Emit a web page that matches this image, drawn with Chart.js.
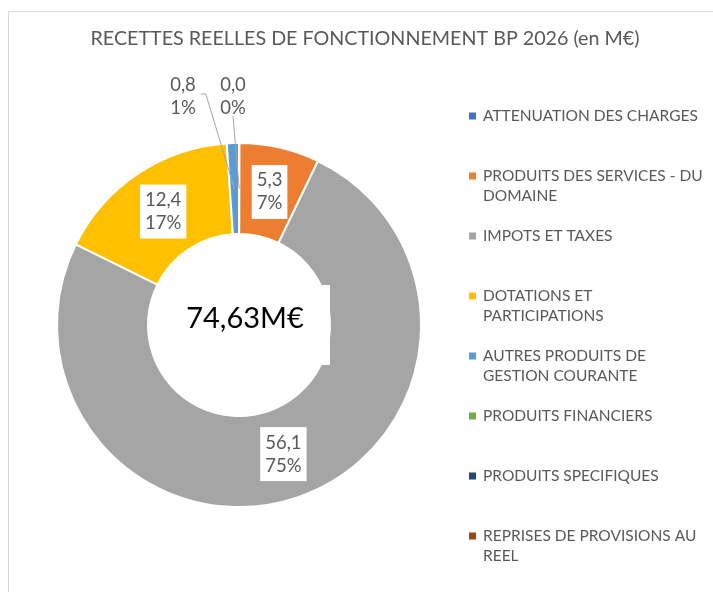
<!DOCTYPE html>
<html lang="fr">
<head>
<meta charset="utf-8">
<title>Recettes réelles de fonctionnement BP 2026</title>
<script src="https://cdn.jsdelivr.net/npm/chart.js"></script>
<style>
  html, body { margin: 0; padding: 0; background: #fff; }
  #wrap { position: relative; width: 713px; height: 592px; }
</style>
</head>
<body>
<div id="wrap"><canvas id="myChart"></canvas></div>
<script>
// data (M€)
var Title = 'RECETTES REELLES DE FONCTIONNEMENT BP 2026 (en M€)';
var Categories = [
  'ATTENUATION DES CHARGES',
  ['PRODUITS DES SERVICES - DU', 'DOMAINE'],
  'IMPOTS ET TAXES',
  ['DOTATIONS ET', 'PARTICIPATIONS'],
  ['AUTRES PRODUITS DE', 'GESTION COURANTE'],
  'PRODUITS FINANCIERS',
  'PRODUITS SPECIFIQUES',
  ['REPRISES DE PROVISIONS AU', 'REEL']
];
var Values = [0.03, 5.3, 56.1, 12.4, 0.8, 0, 0, 0];
var Colors = ['#4472C4', '#ED7D31', '#A5A5A5', '#FFC000', '#5B9BD5', '#70AD47', '#264478', '#9E480E'];

var FONT = 'Lato, "Open Sans", sans-serif';
var GRAY = '#595959';
var total = Values.reduce(function (a, b) { return a + b; }, 0);

function fmt(v, d) { return v.toFixed(d).replace('.', ','); }

var decor = {
  id: 'decor',
  beforeDraw: function (chart) {
    var ctx = chart.ctx;
    ctx.save();
    ctx.fillStyle = '#fff';
    ctx.fillRect(0, 0, chart.width, chart.height);
    ctx.strokeStyle = '#d9d9d9';
    ctx.lineWidth = 1;
    ctx.strokeRect(8.5, 11.5, chart.width + 20, chart.height + 20);
    ctx.fillStyle = GRAY;
    ctx.font = '19.7px ' + FONT;
    ctx.textAlign = 'center';
    ctx.textBaseline = 'middle';
    ctx.fillText(Title, 365, 39);
    ctx.restore();
  },
  afterDatasetsDraw: function (chart) {
    var ctx = chart.ctx;
    var meta = chart.getDatasetMeta(0);
    var first = meta.data[0];
    var cx = first.x, cy = first.y;

    // centre text box
    ctx.save();
    ctx.fillStyle = '#fff';
    ctx.fillRect(cx + 6 - 84, cy - 40, 169, 80);
    ctx.fillStyle = '#000';
    ctx.font = '29px ' + FONT;
    ctx.textAlign = 'center';
    ctx.textBaseline = 'middle';
    ctx.fillText(fmt(total, 2) + 'M€', cx + 6, cy - 6);

    // data labels
    var lineH = 23;
    var outsideDx = [-6, -56];
    var k = 0;
    ctx.font = '18.5px ' + FONT;
    meta.data.forEach(function (arc, i) {
      var v = Values[i];
      if (v <= 0) return;
      var p = arc.getProps(['x', 'y', 'startAngle', 'endAngle', 'innerRadius', 'outerRadius']);
      var mid = (p.startAngle + p.endAngle) / 2;
      var r = (p.innerRadius + p.outerRadius) / 2;
      var px = p.x + Math.cos(mid) * r;
      var py = p.y + Math.sin(mid) * r;
      var pct = v / total * 100;
      var l1 = fmt(v, 1), l2 = Math.round(pct) + '%';
      var w = Math.max(ctx.measureText(l1).width, ctx.measureText(l2).width);
      if (pct >= 3) {
        ctx.fillStyle = '#fff';
        ctx.fillRect(px - w / 2 - 5, py - lineH - 4, w + 10, lineH * 2 + 8);
        ctx.fillStyle = GRAY;
        ctx.fillText(l1, px, py - lineH / 2);
        ctx.fillText(l2, px, py + lineH / 2);
      } else {
        var lx = p.x + outsideDx[k++];
        var ly = p.y - p.outerRadius - 46;
        ctx.strokeStyle = '#A6A6A6';
        ctx.lineWidth = 1;
        ctx.beginPath();
        if (Math.abs(lx - px) < 12) {
          ctx.moveTo(lx, ly + 19);
        } else {
          ctx.moveTo(lx + w / 2 + 5, ly - 3);
          ctx.lineTo(lx + w / 2 + 10, ly - 3);
        }
        ctx.lineTo(px, py);
        ctx.stroke();
        ctx.fillStyle = GRAY;
        ctx.fillText(l1, lx, ly - lineH / 2);
        ctx.fillText(l2, lx, ly + lineH / 2);
      }
    });

    // legend
    ctx.font = '15.5px ' + FONT;
    ctx.textAlign = 'left';
    Categories.forEach(function (lab, i) {
      var y = 116 + i * 60;
      var lines = Array.isArray(lab) ? lab : [lab];
      ctx.fillStyle = Colors[i];
      ctx.fillRect(469, y - 3.5, 7, 7);
      ctx.fillStyle = GRAY;
      lines.forEach(function (t, j) { ctx.fillText(t, 483, y + j * 20); });
    });
    ctx.restore();
  }
};

new Chart('myChart', {
  type: 'doughnut',
  data: {
    labels: Categories,
    datasets: [{
      data: Values,
      backgroundColor: Colors,
      borderColor: '#fff',
      borderWidth: 2
    }]
  },
  options: {
    responsive: true,
    maintainAspectRatio: false,
    animation: false,
    cutout: '50%',
    layout: { padding: { left: 56, right: 291, top: 142, bottom: 84 } },
    plugins: {
      legend: { display: false },
      title: { display: false },
      tooltip: { enabled: false }
    }
  },
  plugins: [decor]
});
</script>
</body>
</html>
